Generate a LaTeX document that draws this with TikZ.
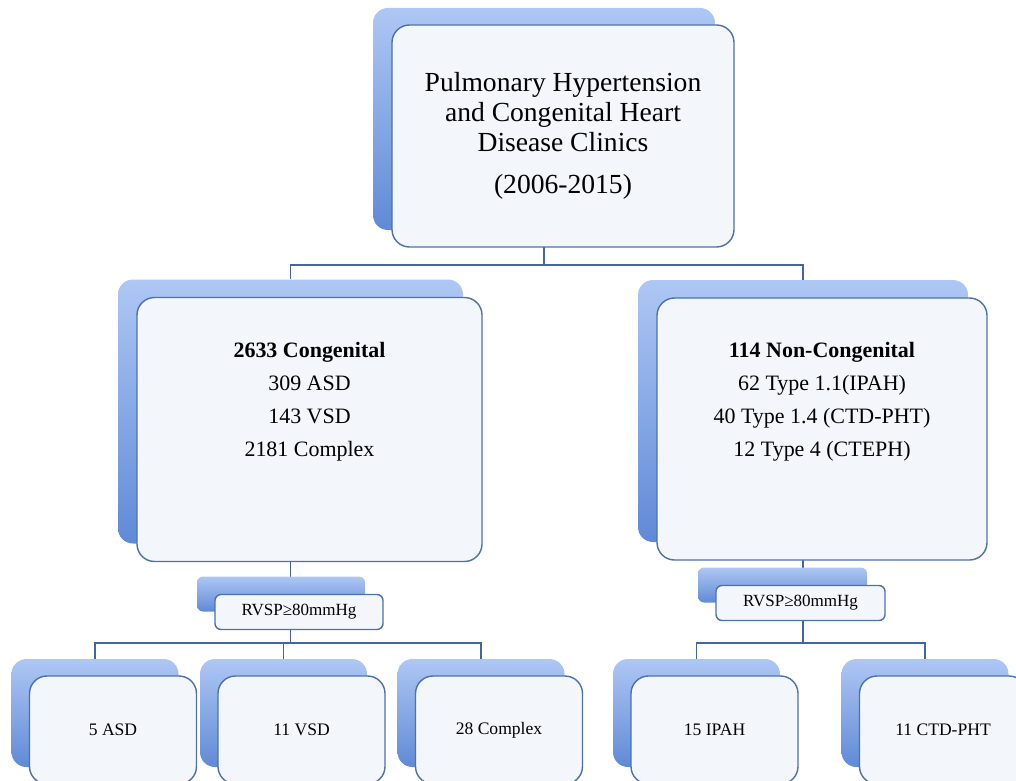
\documentclass[tikz,border=0pt]{standalone}
\usepackage{fontspec}
\setmainfont{Liberation Serif}
\usetikzlibrary{positioning, backgrounds}

\definecolor{backlight}{RGB}{174,199,244}
\definecolor{backdark}{RGB}{96,138,214}
\definecolor{cardline}{RGB}{78,112,174}
\definecolor{cardfill}{RGB}{243,246,251}
\definecolor{linkline}{RGB}{68,102,160}

\begin{document}
\begin{tikzpicture}[x=0.02cm, y=-0.02cm,
    boxsize/.style 2 args={minimum width=#1*0.02cm, minimum height=#2*0.02cm},
    back/.style={rounded corners=0.3cm, top color=backlight, bottom color=backdark, inner sep=0pt},
    card/.style={draw=cardline, line width=0.8pt, rounded corners=0.35cm, fill=cardfill, inner sep=0pt},
    link/.style={draw=linkline, line width=0.8pt},
    big/.style={font=\fontsize{15.7}{17}\selectfont, align=center},
    mid/.style={font=\fontsize{12.5}{18.8}\selectfont, align=center},
    small/.style={font=\fontsize{10}{12}\selectfont},
    tag/.style={font=\fontsize{9.7}{12}\selectfont}]
    \clip (0,0) rectangle (1016,780);

    % top box
    \node[back, boxsize={342}{222}] (clinicsback) at (544,119) {};
    \node[card, boxsize={342}{222}, big] (clinics) at ([shift={(19,17)}]clinicsback) {Pulmonary Hypertension\\and Congenital Heart\\Disease Clinics\\[7pt](2006-2015)};

    % congenital / non-congenital
    \node[back, boxsize={345}{264}] (congback) at (290.5,411.5) {};
    \node[card, boxsize={345}{264}] (cong) at ([shift={(19,18)}]congback) {};
    \node[mid, below=0.78cm of cong.north] (congtext) {\textbf{2633 Congenital}\\309 ASD\\143 VSD\\2181 Complex};

    \node[back, boxsize={330}{262}] (noncongback) at (803,411) {};
    \node[card, boxsize={330}{262}] (noncong) at ([shift={(19,18)}]noncongback) {};
    \node[mid, below=0.78cm of noncong.north] (noncongtext) {\textbf{114 Non-Congenital}\\62 Type 1.1(IPAH)\\40 Type 1.4 (CTD-PHT)\\12 Type 4 (CTEPH)};

    % RVSP filters
    \node[back, boxsize={168}{35}, rounded corners=0.12cm] (filterleftback) at (281,594) {};
    \node[card, boxsize={168}{35}, tag, rounded corners=0.12cm] (filterleft) at ([shift={(18,18)}]filterleftback) {RVSP≥80mmHg};
    \node[back, boxsize={169}{35}, rounded corners=0.12cm] (filterrightback) at (782.5,585) {};
    \node[card, boxsize={169}{35}, tag, rounded corners=0.12cm] (filterright) at ([shift={(18,18)}]filterrightback) {RVSP≥80mmHg};

    % outcome boxes
    \foreach \name/\x/\txt in {asd/95/5 ASD, vsd/283.5/11 VSD, cplx/481/28 Complex, ipah/696.5/15 IPAH, ctd/925/11 CTD-PHT} {
        \node[back, boxsize={167}{108}] (\name back) at (\x,713) {};
        \node[card, boxsize={167}{108}, small] (\name) at ([shift={(18,17)}]\name back) {\txt};
    }

    \begin{scope}[on background layer]
        \coordinate (split1) at (clinicsback |- 0,265);
        \coordinate (split2) at (congback |- 0,643);
        \coordinate (split3) at (noncongback |- 0,643);
        \draw[link] (clinicsback) -- (split1) -| (congback);
        \draw[link] (split1) -| (noncongback);
        \draw[link] (congback) -- (split2) -| (asdback);
        \draw[link] (split2) -| (vsdback);
        \draw[link] (split2) -| (cplxback);
        \draw[link] (noncongback) -- (split3) -| (ipahback);
        \draw[link] (split3) -| (ctdback);
    \end{scope}
\end{tikzpicture}
\end{document}
